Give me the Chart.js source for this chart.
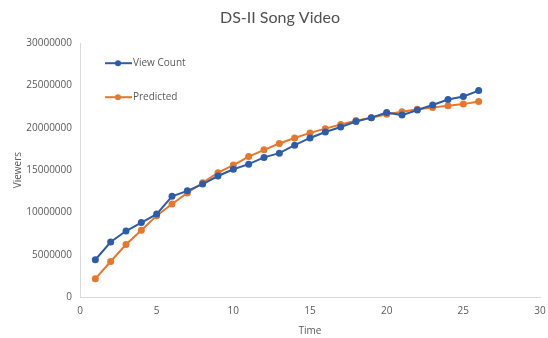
<!DOCTYPE html>
<html>
<head>
<meta charset="utf-8">
<script src="https://cdn.jsdelivr.net/npm/chart.js@4"></script>
<style>
  html, body { margin: 0; padding: 0; background: #fff; }
  #wrap { width: 548px; height: 338px; }
</style>
</head>
<body>
<div id="wrap"><canvas id="chart"></canvas></div>
<script>
const timeSteps = [1, 2, 3, 4, 5, 6, 7, 8, 9, 10, 11, 12, 13, 14, 15, 16, 17, 18, 19, 20, 21, 22, 23, 24, 25, 26];
const viewCount = [4400000, 6500000, 7800000, 8800000, 9800000, 11900000, 12550000, 13350000, 14300000, 15100000,
  15700000, 16500000, 17000000, 17950000, 18800000, 19500000, 20100000, 20750000, 21200000, 21800000,
  21500000, 22100000, 22700000, 23350000, 23700000, 24400000];
const predicted = [2150000, 4200000, 6200000, 7900000, 9600000, 11000000, 12300000, 13500000, 14700000, 15600000,
  16600000, 17400000, 18150000, 18800000, 19400000, 19900000, 20400000, 20850000, 21200000, 21600000,
  21900000, 22200000, 22400000, 22600000, 22800000, 23100000];

const BLUE = '#2d5ca9';
const ORANGE = '#e9772b';
const TEXT = '#595959';
const AXIS = '#d9d9d9';

const toPoints = (ys) => ys.map((y, i) => ({ x: timeSteps[i], y }));

// legend drawn inside the plot, top-left corner
const innerLegend = {
  id: 'innerLegend',
  afterDraw(chart) {
    const { ctx, chartArea } = chart;
    const x0 = chartArea.left + 25;
    let y = chartArea.top + 20;
    ctx.save();
    ctx.font = '10px "Open Sans"';
    ctx.textBaseline = 'middle';
    chart.data.datasets.forEach(ds => {
      ctx.strokeStyle = ds.borderColor;
      ctx.lineWidth = 2;
      ctx.beginPath();
      ctx.moveTo(x0, y);
      ctx.lineTo(x0 + 27, y);
      ctx.stroke();
      ctx.fillStyle = ds.backgroundColor;
      ctx.beginPath();
      ctx.arc(x0 + 13, y, 3, 0, Math.PI * 2);
      ctx.fill();
      ctx.fillStyle = TEXT;
      ctx.fillText(ds.label, x0 + 28, y);
      y += 34;
    });
    ctx.restore();
  }
};

new Chart(document.getElementById('chart'), {
  type: 'line',
  data: {
    datasets: [
      {
        label: 'View Count',
        data: toPoints(viewCount),
        borderColor: BLUE,
        backgroundColor: BLUE,
        borderWidth: 2,
        pointRadius: 3.5,
        pointBorderWidth: 0,
      },
      {
        label: 'Predicted',
        data: toPoints(predicted),
        borderColor: ORANGE,
        backgroundColor: ORANGE,
        borderWidth: 2,
        pointRadius: 3.5,
        pointBorderWidth: 0,
      }
    ]
  },
  options: {
    responsive: true,
    maintainAspectRatio: false,
    animation: false,
    layout: { padding: { left: 20, right: 8, top: 0, bottom: 0 } },
    plugins: {
      legend: { display: false },
      tooltip: { enabled: false },
      title: {
        display: true,
        text: 'DS-II Song Video',
        color: '#505050',
        font: { family: 'Lato', size: 16, weight: 'normal' },
        padding: { top: 8, bottom: 16 }
      }
    },
    scales: {
      x: {
        type: 'linear',
        min: 0,
        max: 30,
        ticks: {
          stepSize: 5,
          color: TEXT,
          font: { family: 'Open Sans', size: 10 },
          padding: 8,
          maxRotation: 0
        },
        grid: { display: false, drawTicks: false },
        border: { display: true, color: AXIS, width: 1 },
        title: {
          display: true,
          text: 'Time',
          color: TEXT,
          font: { family: 'Open Sans', size: 10 },
          padding: { top: 0, bottom: 1 }
        },
        afterFit(scale) {
          scale.height = 41;
          scale.paddingRight = 0;
        }
      },
      y: {
        min: 0,
        max: 30000000,
        ticks: {
          stepSize: 5000000,
          color: TEXT,
          font: { family: 'Open Sans', size: 10 },
          padding: 8,
          callback: (v) => String(v)
        },
        grid: { display: false, drawTicks: false },
        border: { display: true, color: AXIS, width: 1 },
        title: {
          display: true,
          text: 'Viewers',
          color: TEXT,
          font: { family: 'Open Sans', size: 10 },
          padding: { top: -8, bottom: 0 }
        },
        afterFit(scale) { scale.width = 60; }
      }
    }
  },
  plugins: [innerLegend]
});
</script>
</body>
</html>
